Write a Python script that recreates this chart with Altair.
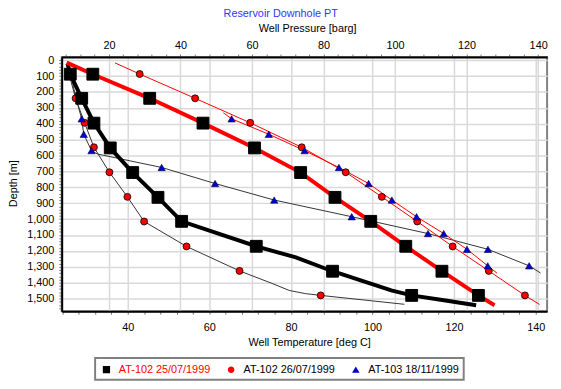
import altair as alt
import pandas as pd

FONT = "Liberation Sans"

SERIES = ["AT-102 25/07/1999", "AT-102 26/07/1999", "AT-103 18/11/1999"]

# ---- marker readings: depth [m], temperature [deg C], pressure [barg] ----
S1_DEPTH = [88, 240, 396, 552, 707, 863, 1014, 1171, 1328, 1480]
S1_TEMP = [25.9, 28.7, 31.7, 35.7, 41.2, 47.4, 53.2, 71.5, 90.2, 109.6]
S1_PRESS = [15.5, 31.4, 46.3, 60.7, 73.6, 83.2, 93.2, 103.0, 113.1, 123.3]

S2_DEPTH = [87, 240, 394, 548, 705, 860, 1015, 1172, 1326, 1480]
S2_TEMP = [25.6, 27.2, 29.4, 31.7, 35.5, 39.9, 44.0, 54.4, 67.4, 87.3]
S2_PRESS = [28.6, 44.1, 59.5, 73.9, 86.2, 96.3, 106.2, 116.1, 126.2, 136.3]

S3_DEPTH = [369, 466, 569, 675, 776, 880, 985, 1091, 1190, 1294]
S3_TEMP = [28.7, 29.2, 31.1, 48.3, 61.4, 75.9, 94.9, 113.6, 128.3, 138.4]
S3_PRESS = [54.3, 64.7, 74.7, 84.3, 92.6, 99.1, 106.0, 113.6, 120.1, 125.9]

# ---- continuous traces ----
S1_TLINE_DEPTH = [21, 88, 240, 396, 552, 707, 863, 1014, 1171, 1241, 1328, 1387, 1449, 1480, 1511, 1542]
S1_TLINE_TEMP = [25.2, 25.9, 28.7, 31.7, 35.7, 41.2, 47.4, 53.2, 71.5, 81.2, 90.2, 97.3, 104.6, 109.6, 117.5, 125.4]
S1_PLINE_DEPTH = [15, 88, 240, 396, 552, 707, 863, 1014, 1171, 1328, 1480, 1542]
S1_PLINE_PRESS = [8.2, 15.5, 31.4, 46.3, 60.7, 73.6, 83.2, 93.2, 103.0, 113.1, 123.3, 127.8]

S2_TLINE_DEPTH = [20, 87, 240, 394, 548, 705, 860, 1015, 1172, 1326, 1407, 1449, 1469, 1480, 1536]
S2_TLINE_TEMP = [25.3, 25.6, 27.2, 29.4, 31.7, 35.5, 39.9, 44.0, 54.4, 67.4, 75.6, 79.6, 83.6, 87.3, 107.8]
S2_PLINE_DEPTH = [17, 87, 240, 394, 548, 705, 860, 1015, 1172, 1326, 1480, 1537]
S2_PLINE_PRESS = [21.7, 28.6, 44.1, 59.5, 73.9, 86.2, 96.3, 106.2, 116.1, 126.2, 136.3, 140.4]

S3_TLINE_DEPTH = [20, 240, 369, 466, 569, 590, 675, 776, 880, 985, 1091, 1190, 1294, 1339]
S3_TLINE_TEMP = [25.4, 27.3, 28.7, 29.2, 31.1, 32.5, 48.3, 61.4, 75.9, 94.9, 113.6, 128.3, 138.4, 141.2]
S3_PLINE_DEPTH = [331, 369, 466, 569, 675, 776, 880, 985, 1091, 1190, 1294, 1340]
S3_PLINE_PRESS = [52.0, 54.3, 64.7, 74.7, 84.3, 92.6, 99.1, 106.0, 113.6, 120.1, 125.9, 128.5]

# ---- axis tick positions ----
T_TICKS = list(range(24, 141, 4))
P_TICKS = list(range(8, 141, 4))
D_TICKS = list(range(0, 1561, 20))

GRID = "#d9d9d9"


def grid_every(step):
    return {"condition": {"test": f"datum.value % {step} === 0", "value": 1}, "value": 0}


t_scale = alt.Scale(domain=[23.8, 142.8], nice=False, zero=False)
p_scale = alt.Scale(domain=[6.8, 142.5], nice=False, zero=False)
d_scale = alt.Scale(domain=[-20, 1580], reverse=True, nice=False, zero=False)

common = dict(
    grid=True, gridColor=GRID, gridWidth=1.5,
    domainColor="black", domainWidth=2,
    tickColor="#777777", tickSize=3, tickWidth=1,
    labelFont=FONT, labelFontSize=11, labelColor="black",
    labelFlush=False, labelOverlap=False,
    titleFont=FONT, titleFontSize=11, titleFontWeight="normal", titleColor="black",
)

t_axis = alt.Axis(
    orient="bottom", title="Well Temperature [deg C]", values=T_TICKS,
    labelExpr="datum.value % 20 === 0 ? datum.label : ''",
    gridOpacity=grid_every(20), labelPadding=16.3, labelBaseline="alphabetic",
    titleX=251, titleY=35, titleBaseline="alphabetic", titleAlign="center",
    **common,
)
p_axis = alt.Axis(
    orient="top", title="Well Pressure [barg]", values=P_TICKS,
    labelExpr="datum.value % 20 === 0 ? datum.label : ''",
    gridOpacity=grid_every(20), labelPadding=5.5, labelBaseline="alphabetic",
    titleX=249, titleY=-26, titleBaseline="alphabetic", titleAlign="center",
    **common,
)
d_axis = alt.Axis(
    orient="left", title="Depth [m]", values=D_TICKS,
    labelExpr="datum.value % 100 === 0 ? format(datum.value, ',') : ''",
    gridOpacity=grid_every(100), labelPadding=5,
    titleX=-45.5, titleY=128, titleBaseline="alphabetic", titleAlign="center",
    **common,
)


def frame(depth, vals, name, col):
    return pd.DataFrame({"series": [name] * len(depth), "depth": depth, col: vals})


def line(df, col, scale, axis, color, width):
    return alt.Chart(df).mark_line(color=color, strokeWidth=width).encode(
        x=alt.X(f"{col}:Q", scale=scale, axis=axis),
        y=alt.Y("depth:Q", scale=d_scale, axis=d_axis),
        order=alt.Order("depth:Q"),
    )


def points(df, col, scale, **style):
    return alt.Chart(df).mark_point(filled=True, opacity=1, **style).encode(
        x=alt.X(f"{col}:Q", scale=scale, axis=None),
        y=alt.Y("depth:Q", scale=d_scale, axis=d_axis),
    )


STY = [
    dict(shape="square", size=144, fill="black", stroke="black", strokeWidth=1),
    dict(shape="circle", size=50, fill="#ff0000", stroke="black", strokeWidth=0.8),
    dict(shape="triangle-up", size=55, fill="#0000cc", stroke="#000044", strokeWidth=0.6),
]

temp_lines = alt.layer(
    line(frame(S2_TLINE_DEPTH, S2_TLINE_TEMP, SERIES[1], "temp"), "temp", t_scale, t_axis, "#333333", 1),
    line(frame(S3_TLINE_DEPTH, S3_TLINE_TEMP, SERIES[2], "temp"), "temp", t_scale, t_axis, "#333333", 1),
    line(frame(S1_TLINE_DEPTH, S1_TLINE_TEMP, SERIES[0], "temp"), "temp", t_scale, t_axis, "black", 4),
)
press_lines = alt.layer(
    line(frame(S2_PLINE_DEPTH, S2_PLINE_PRESS, SERIES[1], "press"), "press", p_scale, p_axis, "#ff0000", 1),
    line(frame(S3_PLINE_DEPTH, S3_PLINE_PRESS, SERIES[2], "press"), "press", p_scale, p_axis, "#ff0000", 1),
    line(frame(S1_PLINE_DEPTH, S1_PLINE_PRESS, SERIES[0], "press"), "press", p_scale, p_axis, "#ff0000", 4),
)
temp_pts = alt.layer(
    points(frame(S2_DEPTH, S2_TEMP, SERIES[1], "temp"), "temp", t_scale, **STY[1]),
    points(frame(S3_DEPTH, S3_TEMP, SERIES[2], "temp"), "temp", t_scale, **STY[2]),
    points(frame(S1_DEPTH, S1_TEMP, SERIES[0], "temp"), "temp", t_scale, **STY[0]),
)
press_pts = alt.layer(
    points(frame(S2_DEPTH, S2_PRESS, SERIES[1], "press"), "press", p_scale, **STY[1]),
    points(frame(S3_DEPTH, S3_PRESS, SERIES[2], "press"), "press", p_scale, **STY[2]),
    points(frame(S1_DEPTH, S1_PRESS, SERIES[0], "press"), "press", p_scale, **STY[0]),
)

# legend symbols: marker with a short line through it
LEG_PATHS = [
    "M-1,0L1,0M-0.6,-0.6L0.6,-0.6L0.6,0.6L-0.6,0.6Z",
    "M-1,0L1,0M0.55,0A0.55,0.55,0,1,1,-0.55,0A0.55,0.55,0,1,1,0.55,0Z",
    "M-1,0L1,0M0,-0.55L0.62,0.45L-0.62,0.45Z",
]
LEG_FILLS = ["black", "#ff0000", "#0000cc"]

leg = alt.Legend(
    orient="none", legendX=33.9, legendY=305.5, direction="horizontal", title=None,
    strokeColor="#808080", fillColor="white", padding=4.5,
    labelFont=FONT, labelFontSize=11,
    labelColor={"expr": "datum.value === 'AT-102 25/07/1999' ? '#ff0000' : 'black'"},
    symbolSize=150, symbolStrokeColor="black", symbolStrokeWidth=1, symbolOpacity=1,
    labelOffset=5.6, columnPadding=11.5,
)

legend_layer = alt.Chart(pd.DataFrame({"series": SERIES})).mark_point(
    opacity=0, filled=True, stroke="black", size=150
).encode(
    shape=alt.Shape("series:N", scale=alt.Scale(domain=SERIES, range=LEG_PATHS), legend=leg, sort=SERIES),
    fill=alt.Fill("series:N", scale=alt.Scale(domain=SERIES, range=LEG_FILLS), legend=leg, sort=SERIES),
)

chart = alt.layer(
    temp_lines, press_lines, temp_pts, press_pts, legend_layer
).resolve_scale(
    x="independent"
).properties(
    width=492.5, height=258,
    autosize=alt.AutoSizeParams(type="none"),
    padding={"left": 54.5, "top": 47, "right": 6, "bottom": 68},
    title=alt.TitleParams(
        "Reservoir Downhole PT", font=FONT, fontSize=11, fontWeight="normal",
        color="#3333ff", anchor="middle", dx=-24, dy=9.5, offset=4, baseline="alphabetic",
    ),
).configure_view(
    stroke="#808080", strokeWidth=2
).configure_legend(
    strokeWidth=2
)

chart.save("out.html", embed_options={"renderer": "svg", "actions": False})
